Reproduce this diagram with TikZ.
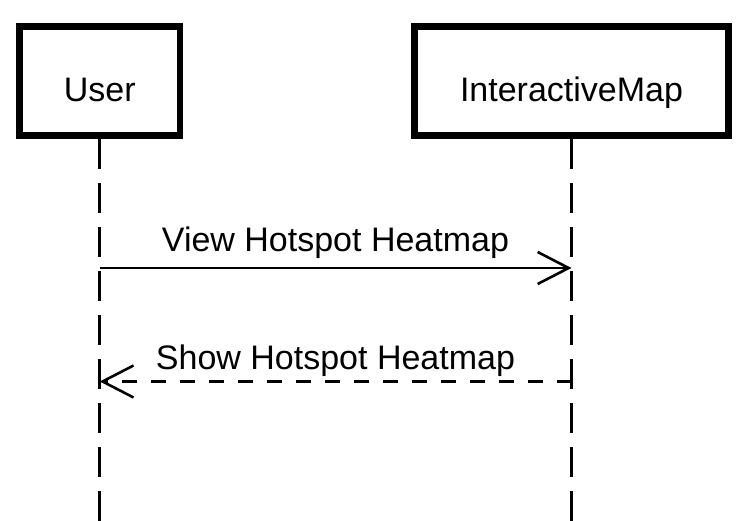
\documentclass[tikz,border=0pt]{standalone}
\usepackage{fontspec}
\setmainfont{Liberation Sans}
\usetikzlibrary{arrows.meta}

\begin{document}
\begin{tikzpicture}[x=1pt, y=-1pt, line join=miter,
		actor/.style={draw, line width=6.7pt, minimum height=109.3pt, inner sep=0pt, text height=41.4pt, text depth=0pt, font=\fontsize{34}{40}\selectfont},
		lifeline/.style={line width=2.6pt, dash pattern=on 30pt off 14pt},
		msg/.style={line width=2.6pt, -{Straight Barb[length=31pt, width=32pt]}},
		reply/.style={msg, dash pattern=on 15pt off 14pt},
		msglabel/.style={anchor=base, inner sep=0pt, font=\fontsize{34}{40}\selectfont}]
	\useasboundingbox (0,0) rectangle (748,521);
	
	% Participants
	\node[actor, minimum width=160.3pt] (user) at (99.7,81) {User};
	\node[actor, minimum width=314.3pt] (map) at (571.5,81) {InteractiveMap};
	
	% Lifelines
	\coordinate (userend) at (user.south |- 0,521);
	\coordinate (mapend) at (map.south |- 0,521);
	\draw[lifeline] (user.south) -- (userend);
	\draw[lifeline] (map.south) -- (mapend);
	
	% Messages
	\coordinate (viewfrom) at (user.south |- 0,268);
	\coordinate (viewto) at (map.south |- 0,268);
	\coordinate (showfrom) at (map.south |- 0,381.5);
	\coordinate (showto) at (user.south |- 0,381.5);
	\draw[msg] (viewfrom) -- (viewto);
	\draw[reply] (showfrom) -- (showto);
	
	\node[msglabel] (viewlbl) at (335.5,251.7) {View Hotspot Heatmap};
	\node[msglabel] (showlbl) at (335.5,369.3) {Show Hotspot Heatmap};
\end{tikzpicture}
\end{document}
